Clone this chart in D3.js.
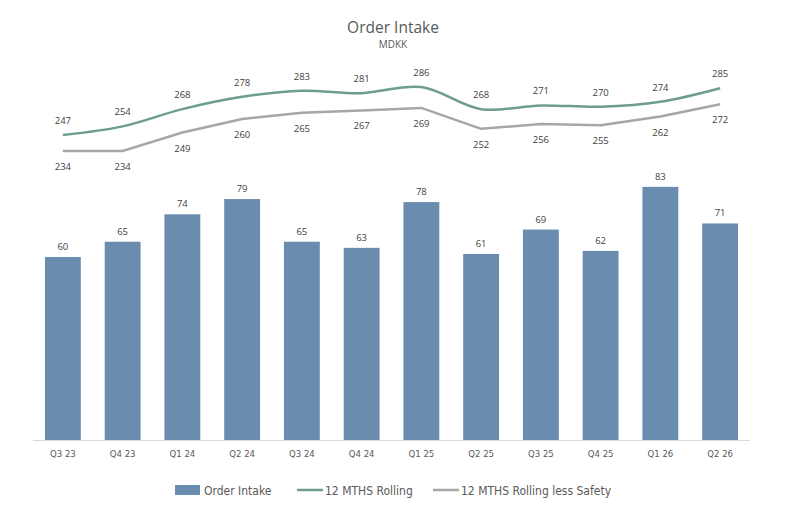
<!DOCTYPE html>
<html>
<head>
<meta charset="utf-8">
<script src="https://cdn.jsdelivr.net/npm/d3@7"></script>
<style>
  body { margin: 0; background: #fff; }
  text { font-family: "Open Sans", sans-serif; }
  .narrow { font-family: "Liberation Sans Narrow", "DejaVu Sans Condensed", sans-serif; }
</style>
</head>
<body>
<div id="chart"></div>
<script>
// données
const quarters = ["Q3 23", "Q4 23", "Q1 24", "Q2 24", "Q3 24", "Q4 24", "Q1 25", "Q2 25", "Q3 25", "Q4 25", "Q1 26", "Q2 26"];
const orderIntake = [60, 65, 74, 79, 65, 63, 78, 61, 69, 62, 83, 71];
const rolling12 = [247, 254, 268, 278, 283, 281, 286, 268, 271, 270, 274, 285];
const rollingLessSafety = [234, 234, 249, 260, 265, 267, 269, 252, 256, 255, 262, 272];

const width = 790, height = 507;
const barColor = "#6a8cae", greenColor = "#6c9e8a", greyColor = "#a6a6a6";

const svg = d3.select("#chart")
    .append("svg")
    .attr("width", width)
    .attr("height", height);

// titre
svg.append("text")
    .attr("x", 393).attr("y", 33)
    .attr("text-anchor", "middle")
    .attr("font-size", 15.5)
    .attr("fill", "#595959")
    .text("Order Intake");
svg.append("text")
    .attr("x", 393).attr("y", 48)
    .attr("text-anchor", "middle")
    .attr("font-size", 10)
    .attr("fill", "#595959")
    .text("MDKK");

// axes
const x = d3.scaleBand()
    .domain(quarters)
    .range([33, 750])
    .paddingInner(0.4)
    .paddingOuter(0.2);

const y = d3.scaleLinear()
    .domain([0, 90])
    .range([440, 165.5]);

const y2 = d3.scaleLinear()
    .domain([234, 286])
    .range([151, 87]);

// barres
svg.append("g")
    .selectAll("rect")
    .data(orderIntake)
    .join("rect")
    .attr("x", (d, i) => x(quarters[i]))
    .attr("y", d => y(d))
    .attr("width", x.bandwidth())
    .attr("height", d => y(0) - y(d))
    .attr("fill", barColor);

svg.append("g")
    .selectAll("text")
    .data(orderIntake)
    .join("text")
    .attr("x", (d, i) => x(quarters[i]) + x.bandwidth() / 2)
    .attr("y", d => y(d) - 7)
    .attr("text-anchor", "middle")
    .attr("font-size", 9.5)
    .attr("fill", "#404040")
    .text(d => d);

// axe x
const xAxis = svg.append("g")
    .attr("transform", "translate(0," + y(0) + ")")
    .call(d3.axisBottom(x).tickSize(0).tickPadding(10));
xAxis.select(".domain").attr("stroke", "#d9d9d9").attr("d", "M33,0.5H750");
xAxis.selectAll("text")
    .attr("class", "narrow")
    .attr("font-size", 9.5)
    .attr("fill", "#595959");

// courbes
const cx = (d, i) => x(quarters[i]) + x.bandwidth() / 2;

const lineGreen = d3.line()
    .x(cx)
    .y(d => y2(d))
    .curve(d3.curveCatmullRom.alpha(0.5));

const lineGrey = d3.line()
    .x(cx)
    .y(d => y2(d));

svg.append("path")
    .datum(rollingLessSafety)
    .attr("d", lineGrey)
    .attr("fill", "none")
    .attr("stroke", greyColor)
    .attr("stroke-width", 2.5);

svg.append("path")
    .datum(rolling12)
    .attr("d", lineGreen)
    .attr("fill", "none")
    .attr("stroke", greenColor)
    .attr("stroke-width", 2.5);

svg.append("g")
    .selectAll("text")
    .data(rolling12)
    .join("text")
    .attr("x", cx)
    .attr("y", d => y2(d) - 11)
    .attr("text-anchor", "middle")
    .attr("font-size", 9.5)
    .attr("fill", "#404040")
    .text(d => d);

svg.append("g")
    .selectAll("text")
    .data(rollingLessSafety)
    .join("text")
    .attr("x", cx)
    .attr("y", d => y2(d) + 19)
    .attr("text-anchor", "middle")
    .attr("font-size", 9.5)
    .attr("fill", "#404040")
    .text(d => d);

// légende
const legend = svg.append("g").attr("transform", "translate(0,490)");

legend.append("rect")
    .attr("x", 175).attr("y", -5)
    .attr("width", 25).attr("height", 10)
    .attr("fill", barColor);
legend.append("text")
    .attr("class", "narrow")
    .attr("x", 204).attr("y", 4.5)
    .attr("font-size", 12)
    .attr("fill", "#595959")
    .text("Order Intake");

legend.append("line")
    .attr("x1", 297).attr("x2", 323)
    .attr("stroke", greenColor).attr("stroke-width", 2.5);
legend.append("text")
    .attr("class", "narrow")
    .attr("x", 325).attr("y", 4.5)
    .attr("font-size", 12)
    .attr("fill", "#595959")
    .text("12 MTHS Rolling");

legend.append("line")
    .attr("x1", 433).attr("x2", 459)
    .attr("stroke", greyColor).attr("stroke-width", 2.5);
legend.append("text")
    .attr("class", "narrow")
    .attr("x", 461).attr("y", 4.5)
    .attr("font-size", 12)
    .attr("fill", "#595959")
    .text("12 MTHS Rolling less Safety");
</script>
</body>
</html>
